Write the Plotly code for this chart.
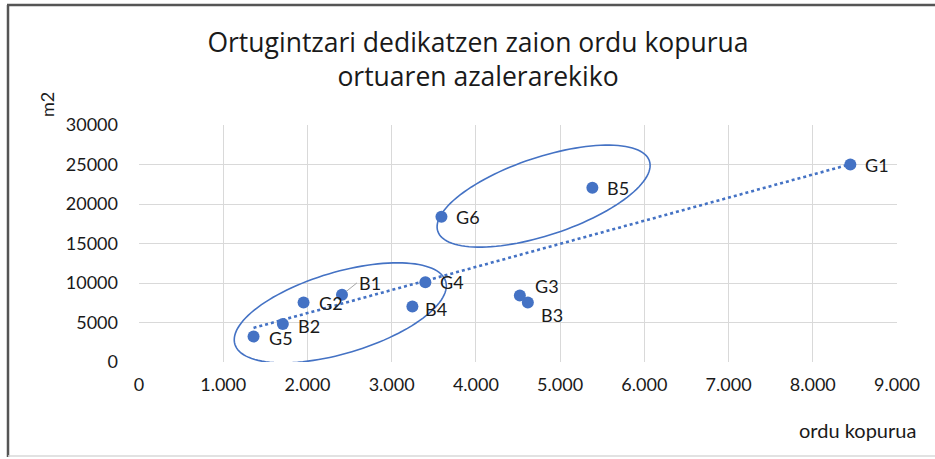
import numpy as np
import plotly.graph_objects as go

# ---- data ----
labels = ["G1", "B1", "B3", "B4", "B5", "G2", "G3", "G4", "G5", "G6", "B2"]
hours = [8446, 2410, 4617, 3246, 5383, 1954, 4522, 3400, 1360, 3591, 1708]
area_m2 = [25000, 8500, 7525, 7020, 22045, 7525, 8410, 10100, 3230, 18385, 4800]

x_ticks = [0, 1000, 2000, 3000, 4000, 5000, 6000, 7000, 8000, 9000]
y_ticks = [0, 5000, 10000, 15000, 20000, 25000, 30000]

# label offsets in pixels (dx, dy) relative to the point
label_shift = {
    "G1": (13, 0), "B1": (0, 0), "B3": (11, -12), "B4": (11, -2), "B5": (13, 0),
    "G2": (13, 0), "G3": (13, 10), "G4": (13, 0), "G5": (13, -2), "G6": (13, 0),
    "B2": (13, -2),
}

BLUE = "#4472C4"
TXT = "#1a1a1a"
FONT = "Lato"
W, H = 935, 459
L, R, T, B = 139, 38, 125, 97
XR = (0, 9000)
YR = (0, 30000)
px_per_x = (W - L - R) / (XR[1] - XR[0])
px_per_y = (H - T - B) / (YR[1] - YR[0])

fig = go.Figure()

# linear trendline (least squares, like the spreadsheet trendline)
slope, intercept = np.polyfit(hours, area_m2, 1)
xt = np.array([min(hours), max(hours)])
fig.add_trace(go.Scatter(x=xt, y=slope * xt + intercept, mode="lines",
                         line=dict(color=BLUE, width=2.6, dash="dot"),
                         hoverinfo="skip", showlegend=False))

fig.add_trace(go.Scatter(x=hours, y=area_m2, mode="markers",
                         marker=dict(color=BLUE, size=12),
                         text=labels, showlegend=False))

# point labels
for lab, xv, yv in zip(labels, hours, area_m2):
    if lab == "B1":
        fig.add_annotation(x=xv, y=yv, text=lab, showarrow=True, arrowhead=0,
                           arrowcolor="#a6a6a6", arrowwidth=1, ax=15, ay=-12,
                           xanchor="left", standoff=6,
                           font=dict(family=FONT, size=18, color=TXT))
        continue
    dx, dy = label_shift[lab]
    fig.add_annotation(x=xv, y=yv, text=lab, showarrow=False, xanchor="left",
                       yanchor="middle", xshift=dx, yshift=dy,
                       font=dict(family=FONT, size=18, color=TXT))

# highlighting ellipses: (centre x, centre y, semi-major px, semi-minor px, angle deg)
ellipses = [(2390, 6225, 110, 40.6, 16.6), (4804, 20997, 111.5, 38.9, 18.4)]
t = np.linspace(0, 2 * np.pi, 121)
for cx, cy, a, b, ang in ellipses:
    th = np.radians(ang)
    dxp = a * np.cos(t) * np.cos(th) - b * np.sin(t) * np.sin(th)
    dyp = a * np.cos(t) * np.sin(th) + b * np.sin(t) * np.cos(th)
    ex = cx + dxp / px_per_x
    ey = cy + dyp / px_per_y
    path = "M " + " L ".join(f"{u:.2f},{v:.2f}" for u, v in zip(ex, ey)) + " Z"
    fig.add_shape(type="path", path=path, xref="x", yref="y",
                  line=dict(color=BLUE, width=1.6))

# outer frame of the chart picture
def px2paper_x(p):
    return (p - L) / (W - L - R)

def px2paper_y(p):
    return 1 - (p - T) / (H - T - B)

fig.add_shape(type="line", xref="paper", yref="paper",
              x0=px2paper_x(7), x1=px2paper_x(940), y0=px2paper_y(5), y1=px2paper_y(5),
              line=dict(color="#555", width=2.5))
fig.add_shape(type="line", xref="paper", yref="paper",
              x0=px2paper_x(8), x1=px2paper_x(8), y0=px2paper_y(5), y1=px2paper_y(457),
              line=dict(color="#555", width=2.5))
fig.add_shape(type="line", xref="paper", yref="paper",
              x0=px2paper_x(8), x1=px2paper_x(940), y0=px2paper_y(456), y1=px2paper_y(456),
              line=dict(color="#d9d9d9", width=1.5))

# axis titles
fig.add_annotation(xref="paper", yref="paper", x=px2paper_x(47), y=px2paper_y(105),
                   text="m2", textangle=-90, showarrow=False,
                   xanchor="center", yanchor="middle",
                   font=dict(family=FONT, size=18, color=TXT))
fig.add_annotation(xref="paper", yref="paper", x=px2paper_x(918), y=px2paper_y(430),
                   text="ordu kopurua", showarrow=False, xanchor="right",
                   yanchor="middle",
                   font=dict(family=FONT, size=20, color=TXT))

fig.update_layout(
    width=W, height=H,
    margin=dict(l=L, r=R, t=T, b=B),
    paper_bgcolor="white", plot_bgcolor="white",
    separators=",.",
    title=dict(text="Ortugintzari dedikatzen zaion ordu kopurua<br>ortuaren azalerarekiko",
               xref="container", yref="container", x=478 / W, xanchor="center",
               y=1 - 52 / H, yanchor="top",
               font=dict(family="Open Sans", size=26.5, color=TXT)),
    xaxis=dict(range=XR, tickvals=x_ticks, tickformat=",d", showgrid=True,
               gridcolor="#d9d9d9", gridwidth=1.2, zeroline=False, showline=False,
               ticks="", ticklabelstandoff=10,
               tickfont=dict(family=FONT, size=18, color=TXT)),
    yaxis=dict(range=YR, tickvals=y_ticks, tickformat="d", showgrid=True,
               gridcolor="#d9d9d9", gridwidth=1.2, zeroline=False, showline=False,
               ticks="", ticklabelstandoff=20,
               tickfont=dict(family=FONT, size=18, color=TXT)),
)

fig.write_html("out.html", config={"displayModeBar": False},
               post_script="document.body.style.margin='0';")
